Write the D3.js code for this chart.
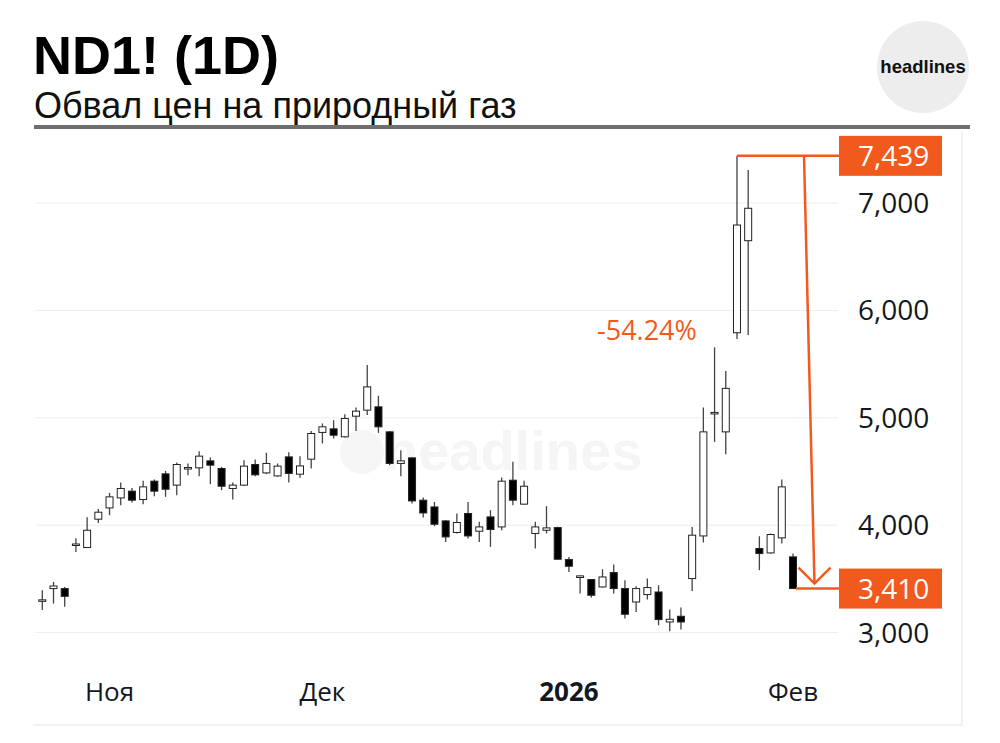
<!DOCTYPE html>
<html>
<head>
<meta charset="utf-8">
<script src="https://cdn.jsdelivr.net/npm/d3@7"></script>
<style>
  html, body { margin: 0; padding: 0; background: #fff; }
  svg { display: block; }
</style>
</head>
<body>
<svg id="chart" width="1000" height="743"></svg>
<script>
(function() {
  'use strict';

  // trading days shown on the chart
  var dates = [
    '2025-10-24', '2025-10-27', '2025-10-28', '2025-10-29', '2025-10-30', '2025-10-31',
    '2025-11-03', '2025-11-04', '2025-11-05', '2025-11-06', '2025-11-07', '2025-11-10',
    '2025-11-11', '2025-11-12', '2025-11-13', '2025-11-14', '2025-11-17', '2025-11-18',
    '2025-11-19', '2025-11-20', '2025-11-21', '2025-11-24', '2025-11-25', '2025-11-26',
    '2025-11-28', '2025-12-01', '2025-12-02', '2025-12-03', '2025-12-04', '2025-12-05',
    '2025-12-08', '2025-12-09', '2025-12-10', '2025-12-11', '2025-12-12', '2025-12-15',
    '2025-12-16', '2025-12-17', '2025-12-18', '2025-12-19', '2025-12-22', '2025-12-23',
    '2025-12-24', '2025-12-26', '2025-12-29', '2025-12-30', '2025-12-31', '2026-01-02',
    '2026-01-05', '2026-01-06', '2026-01-07', '2026-01-08', '2026-01-09', '2026-01-12',
    '2026-01-13', '2026-01-14', '2026-01-15', '2026-01-16', '2026-01-20', '2026-01-21',
    '2026-01-22', '2026-01-23', '2026-01-26', '2026-01-27', '2026-01-28', '2026-01-29',
    '2026-01-30', '2026-02-02'
  ];

  var open = [
    3300, 3410, 3410, 3818, 3792, 4056, 4161, 4254, 4317, 4239, 4410, 4478,
    4373, 4530, 4534, 4599, 4528, 4342, 4373, 4565, 4487, 4459, 4636, 4475,
    4615, 4864, 4897, 4823, 5015, 5071, 5102, 4869, 4575, 4627, 4233, 4170,
    4040, 3932, 4109, 3944, 4077, 3984, 4419, 4196, 3923, 3953, 3978, 3680,
    3513, 3494, 3425, 3559, 3410, 3285, 3354, 3378, 3099, 3152, 3503, 3900,
    5040, 4869, 5792, 6649, 3783, 3742, 3882, 3705
  ];
  var high = [
    3395, 3472, 3425, 3879, 4075, 4152, 4301, 4398, 4347, 4413, 4426, 4506,
    4584, 4575, 4689, 4631, 4543, 4398, 4605, 4612, 4674, 4575, 4680, 4643,
    4876, 4947, 4978, 5034, 5096, 5491, 5205, 4876, 4699, 4630, 4258, 4217,
    4045, 4109, 4217, 4031, 4140, 4444, 4590, 4413, 4031, 4177, 3985, 3705,
    3532, 3498, 3590, 3634, 3487, 3432, 3503, 3441, 3214, 3233, 3984, 5096,
    5656, 5435, 7439, 7307, 3897, 3923, 4426, 3736
  ];
  var low = [
    3210, 3270, 3240, 3751, 3790, 4021, 4093, 4186, 4211, 4196, 4270, 4264,
    4279, 4466, 4456, 4382, 4326, 4239, 4366, 4456, 4475, 4450, 4398, 4441,
    4528, 4761, 4808, 4817, 4876, 5025, 4860, 4559, 4456, 4202, 4072, 3991,
    3844, 3923, 3876, 3844, 3798, 3953, 4186, 4190, 3783, 3923, 3680, 3565,
    3364, 3326, 3420, 3364, 3131, 3192, 3308, 3068, 3012, 3028, 3388, 3839,
    4776, 4661, 5733, 5770, 3581, 3736, 3829, 3410
  ];
  var close = [
    3305, 3434, 3338, 3825, 3953, 4121, 4264, 4342, 4233, 4357, 4317, 4335,
    4565, 4537, 4643, 4559, 4363, 4373, 4550, 4469, 4575, 4550, 4482, 4552,
    4854, 4916, 4838, 4994, 5062, 5288, 4916, 4575, 4599, 4226, 4114, 4009,
    3891, 4025, 3900, 3984, 3960, 4410, 4233, 4363, 3984, 3975, 3683, 3618,
    3528, 3348, 3518, 3410, 3171, 3410, 3419, 3121, 3124, 3099, 3907, 4869,
    5050, 5274, 6795, 6951, 3736, 3913, 4357, 3410
  ];

  var yTicks = [3000, 4000, 5000, 6000, 7000];
  var monthTicks = [
    { date: '2025-11-03', label: 'Ноя', bold: false },
    { date: '2025-12-01', label: 'Дек', bold: false },
    { date: '2026-01-02', label: '2026', bold: true },
    { date: '2026-02-02', label: 'Фев', bold: false }
  ];

  var peakValue = 7439;
  var lastValue = 3410;
  var changeLabel = '-54.24%';

  var accent = '#f25a1d';

  var candles = dates.map(function(d, i) {
    return { date: d, o: open[i], h: high[i], l: low[i], c: close[i] };
  });

  var svg = d3.select('#chart');

  var x = d3.scalePoint().domain(dates).range([42.3, 793]);
  var y = d3.scaleLinear().domain([3000, 7000]).range([632.6, 203]);
  var fmt = d3.format(',');

  // --- header ---
  svg.append('text')
    .attr('x', 33).attr('y', 74)
    .attr('font-family', 'Liberation Sans, Arial, sans-serif')
    .attr('font-weight', 'bold')
    .attr('font-size', 54)
    .attr('fill', '#000')
    .text('ND1! (1D)');

  svg.append('text')
    .attr('x', 34).attr('y', 118)
    .attr('font-family', 'Liberation Sans, Arial, sans-serif')
    .attr('font-size', 36)
    .attr('fill', '#111')
    .text('Обвал цен на природный газ');

  svg.append('rect')
    .attr('x', 34).attr('y', 125)
    .attr('width', 936).attr('height', 4)
    .attr('fill', '#6f6f6f');

  svg.append('circle')
    .attr('cx', 923).attr('cy', 67).attr('r', 46)
    .attr('fill', '#ededed');

  svg.append('text')
    .attr('x', 923).attr('y', 73)
    .attr('text-anchor', 'middle')
    .attr('font-family', 'Liberation Sans, Arial, sans-serif')
    .attr('font-weight', 'bold')
    .attr('font-size', 18.5)
    .attr('fill', '#111')
    .text('headlines');

  // --- panel frame ---
  svg.append('line')
    .attr('x1', 962).attr('x2', 962).attr('y1', 131).attr('y2', 725)
    .attr('stroke', '#ececec').attr('stroke-width', 1.5);
  svg.append('line')
    .attr('x1', 33).attr('x2', 962).attr('y1', 725).attr('y2', 725)
    .attr('stroke', '#ececec').attr('stroke-width', 1.5);

  // --- grid ---
  svg.append('g').selectAll('line')
    .data(yTicks)
    .join('line')
    .attr('x1', 35).attr('x2', 838)
    .attr('y1', function(d) { return y(d); })
    .attr('y2', function(d) { return y(d); })
    .attr('stroke', '#eeeeee')
    .attr('stroke-width', 1);

  // watermark
  var wm = svg.append('g').attr('opacity', 0.9);
  wm.append('circle')
    .attr('cx', 362).attr('cy', 452).attr('r', 22)
    .attr('fill', '#f4f4f4');
  wm.append('text')
    .attr('x', 384).attr('y', 470)
    .attr('font-family', 'Liberation Sans, Arial, sans-serif')
    .attr('font-weight', 'bold')
    .attr('font-size', 56)
    .attr('fill', '#f4f4f4')
    .text('headlines');

  // --- y axis labels ---
  svg.append('g').selectAll('text')
    .data(yTicks)
    .join('text')
    .attr('x', 858)
    .attr('y', function(d) { return y(d); })
    .attr('dy', '0.36em')
    .attr('font-family', 'Open Sans, sans-serif')
    .attr('font-size', 28)
    .attr('fill', '#131722')
    .text(function(d) { return fmt(d); });

  // --- x axis labels ---
  svg.append('g').selectAll('text')
    .data(monthTicks)
    .join('text')
    .attr('x', function(d) { return x(d.date); })
    .attr('y', 701)
    .attr('text-anchor', 'middle')
    .attr('font-family', 'Open Sans, sans-serif')
    .attr('font-size', 26)
    .attr('font-weight', function(d) { return d.bold ? 'bold' : 'normal'; })
    .attr('fill', '#131722')
    .text(function(d) { return d.label; });

  // --- candles ---
  var bodyW = 7;
  var cg = svg.append('g').selectAll('g')
    .data(candles)
    .join('g');

  cg.append('line')
    .attr('x1', function(d) { return x(d.date); })
    .attr('x2', function(d) { return x(d.date); })
    .attr('y1', function(d) { return y(d.h); })
    .attr('y2', function(d) { return y(d.l); })
    .attr('stroke', '#444')
    .attr('stroke-width', 1.3);

  cg.append('rect')
    .attr('x', function(d) { return x(d.date) - bodyW / 2; })
    .attr('y', function(d) { return y(Math.max(d.o, d.c)); })
    .attr('width', bodyW)
    .attr('height', function(d) { return Math.max(1.5, Math.abs(y(d.o) - y(d.c))); })
    .attr('fill', function(d) { return d.c >= d.o ? '#fff' : '#000'; })
    .attr('stroke', '#222')
    .attr('stroke-width', 1);

  // --- drop annotation ---
  var peakIdx = high.indexOf(peakValue);
  var lastDate = dates[dates.length - 1];
  var yPeak = y(peakValue);
  var yLast = y(lastValue);
  var arrowTop = { x: 804, y: yPeak };
  var arrowEnd = { x: 814.5, y: yLast - 5 };

  var ann = svg.append('g')
    .attr('stroke', accent)
    .attr('stroke-width', 2.5)
    .attr('fill', 'none');

  ann.append('line')
    .attr('x1', x(dates[peakIdx])).attr('x2', 840)
    .attr('y1', yPeak).attr('y2', yPeak);
  ann.append('line')
    .attr('x1', x(lastDate) + 3).attr('x2', 840)
    .attr('y1', yLast).attr('y2', yLast);
  ann.append('line')
    .attr('x1', arrowTop.x).attr('y1', arrowTop.y)
    .attr('x2', arrowEnd.x).attr('y2', arrowEnd.y);
  ann.append('path')
    .attr('d', 'M' + (arrowEnd.x - 16) + ',' + (arrowEnd.y - 16) +
      'L' + arrowEnd.x + ',' + arrowEnd.y +
      'L' + (arrowEnd.x + 16) + ',' + (arrowEnd.y - 16))
    .attr('stroke-linejoin', 'miter');

  var tags = [peakValue, lastValue];
  var tg = svg.append('g').selectAll('g')
    .data(tags)
    .join('g');
  tg.append('rect')
    .attr('x', 839)
    .attr('y', function(d) { return y(d) - 20; })
    .attr('width', 103)
    .attr('height', 40)
    .attr('fill', accent);
  tg.append('text')
    .attr('x', 858)
    .attr('y', function(d) { return y(d); })
    .attr('dy', '0.36em')
    .attr('font-family', 'Open Sans, sans-serif')
    .attr('font-size', 28)
    .attr('fill', '#fff')
    .text(function(d) { return fmt(d); });

  svg.append('text')
    .attr('x', 597).attr('y', 340)
    .attr('font-family', 'Open Sans, sans-serif')
    .attr('font-size', 27)
    .attr('fill', accent)
    .text(changeLabel);
})();
</script>
</body>
</html>
